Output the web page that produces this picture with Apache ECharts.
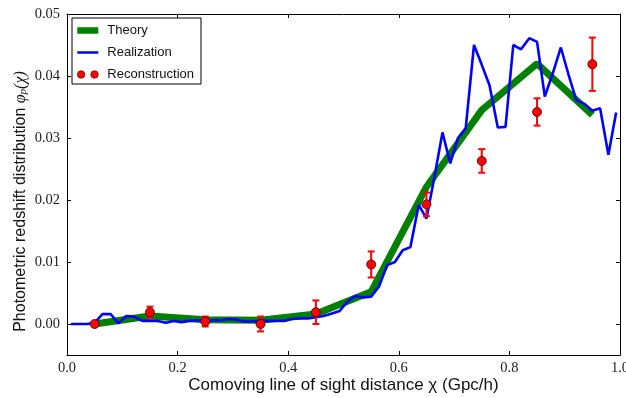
<!DOCTYPE html>
<html>
<head>
<meta charset="utf-8">
<script src="https://cdn.jsdelivr.net/npm/echarts@6/dist/echarts.min.js"></script>
<style>html,body{margin:0;padding:0;background:#fff}#c{width:626px;height:398px}</style>
</head>
<body>
<div id="c"></div>
<script>
// ---- data ----
const theoryX = [0.05, 0.15, 0.25, 0.35, 0.45, 0.55, 0.65, 0.75, 0.85, 0.95];
const theoryY = [0.0000, 0.0013, 0.0007, 0.0006, 0.0016, 0.0052, 0.0221, 0.0345, 0.0420, 0.0337];

const realX = [0.007, 0.021, 0.036, 0.050, 0.064, 0.079, 0.093, 0.107, 0.121, 0.136,
               0.150, 0.164, 0.179, 0.193, 0.207, 0.221, 0.236, 0.250, 0.264, 0.279,
               0.293, 0.307, 0.321, 0.336, 0.350, 0.364, 0.379, 0.393, 0.407, 0.421,
               0.436, 0.450, 0.464, 0.479, 0.493, 0.507, 0.521, 0.536, 0.550, 0.564,
               0.579, 0.593, 0.607, 0.621, 0.636, 0.650, 0.664, 0.679, 0.693, 0.707,
               0.721, 0.736, 0.750, 0.764, 0.779, 0.793, 0.807, 0.821, 0.836, 0.850,
               0.864, 0.879, 0.893, 0.907, 0.921, 0.936, 0.950, 0.964, 0.979, 0.993];
const realY = [0.0000, 0.0000, 0.0000, 0.0002, 0.0016, 0.0016, 0.0001, 0.0013, 0.0012, 0.0005,
               0.0005, 0.0005, 0.0002, 0.0005, 0.0003, 0.0005, 0.0006, 0.0004, 0.0006, 0.0006,
               0.0008, 0.0007, 0.0004, 0.0004, 0.0005, 0.0005, 0.0005, 0.0005, 0.0008, 0.0009,
               0.0009, 0.0011, 0.0013, 0.0017, 0.0021, 0.0036, 0.0045, 0.0043, 0.0044, 0.0060,
               0.0095, 0.0100, 0.0119, 0.0124, 0.0192, 0.0170, 0.0235, 0.0309, 0.0259, 0.0300,
               0.0316, 0.0450, 0.0418, 0.0385, 0.0317, 0.0318, 0.0450, 0.0443, 0.0461, 0.0455,
               0.0367, 0.0406, 0.0446, 0.0402, 0.0361, 0.0355, 0.0344, 0.0348, 0.0273, 0.0341];

const recX   = [0.05, 0.15, 0.25, 0.35, 0.45, 0.55, 0.65, 0.75, 0.85, 0.95];
const recY   = [0.0000, 0.0019, 0.0004, 0.0000, 0.0019, 0.0096, 0.0193, 0.0263, 0.0342, 0.0419];
const recErr = [0.0002, 0.0009, 0.0008, 0.0012, 0.0019, 0.0021, 0.0019, 0.0019, 0.0022, 0.0043];

const xTickValues = [0.0, 0.2, 0.4, 0.6, 0.8, 1.0];
const yTickValues = [0.00, 0.01, 0.02, 0.03, 0.04, 0.05];

// ---- build ----
const zip = (a, b) => a.map((v, i) => [v, b[i]]);
const zip3 = (a, b, c) => a.map((v, i) => [v, b[i], c[i]]);

const tickFont = {fontFamily: 'Liberation Serif', fontSize: 14.5, color: '#222'};
const axisLine = {show: true, onZero: false, lineStyle: {color: '#000', width: 1}};
const tick = {inside: true, length: 4, lineStyle: {color: '#000'}};

// legend icons: thin invisible corner specks fix the bounding box so bar thickness is kept
const specks = 'M0,0h0.01v0.01h-0.01zM20.99,9.99h0.01v0.01h-0.01z';
const theoryIcon = 'path://' + specks + 'M0,1.8h21v6.4h-21z';
const realIcon = 'path://' + specks + 'M0,3.7h21v2.6h-21z';
const recIcon = 'path://' + specks + 'M0,5a3.8,3.8 0 1,0 7.6,0a3.8,3.8 0 1,0 -7.6,0zM13.4,5a3.8,3.8 0 1,0 7.6,0a3.8,3.8 0 1,0 -7.6,0z';

const chart = echarts.init(document.getElementById('c'), null, {renderer: 'canvas'});
chart.setOption({
  animation: false,
  backgroundColor: '#fff',
  grid: {left: 67, right: 6, top: 14, bottom: 43, containLabel: false, outerBoundsMode: 'none'},
  xAxis: [{
    type: 'value', min: 0, max: 1, interval: 0.2, position: 'bottom',
    axisLine: axisLine, splitLine: {show: false}, axisTick: tick,
    axisLabel: Object.assign({margin: 6, customValues: xTickValues, formatter: v => v.toFixed(1)}, tickFont),
    name: 'Comoving line of sight distance \u03c7 (Gpc/h)', nameLocation: 'middle', nameGap: 22,
    nameMoveOverlap: false,
    nameTextStyle: {fontFamily: 'Liberation Sans', fontSize: 17, color: '#111'}
  }, {
    type: 'value', min: 0, max: 1, interval: 0.2, position: 'top',
    axisLine: axisLine, splitLine: {show: false}, axisTick: tick,
    axisLabel: {show: false}
  }],
  yAxis: [{
    type: 'value', min: -0.005, max: 0.05, position: 'left',
    axisLine: axisLine, splitLine: {show: false},
    axisTick: Object.assign({customValues: yTickValues}, tick),
    axisLabel: Object.assign({margin: 7, customValues: yTickValues, formatter: v => v.toFixed(2)}, tickFont),
    name: '{a|Photometric redshift distribution }{m|\u03c6}{s|p}{m|(\u03c7)}',
    nameLocation: 'middle', nameGap: 38, nameMoveOverlap: false,
    nameTextStyle: {
      fontFamily: 'Liberation Sans', fontSize: 16, color: '#111', padding: [0, 34, 0, 0],
      rich: {
        a: {fontFamily: 'Liberation Sans', fontSize: 16, color: '#111'},
        m: {fontFamily: 'Liberation Serif', fontStyle: 'italic', fontSize: 16, color: '#111'},
        s: {fontFamily: 'Liberation Serif', fontStyle: 'italic', fontSize: 11, color: '#111', padding: [6, 0, 0, 0]}
      }
    }
  }, {
    type: 'value', min: -0.005, max: 0.05, position: 'right',
    axisLine: axisLine, splitLine: {show: false},
    axisTick: Object.assign({customValues: yTickValues}, tick),
    axisLabel: {show: false}
  }],
  legend: {
    orient: 'vertical', left: 72, top: 18,
    padding: [6, 7, 3, 5], itemGap: 9, itemWidth: 21, itemHeight: 10,
    borderColor: '#000', borderWidth: 1, backgroundColor: '#fff',
    textStyle: {fontFamily: 'Liberation Sans', fontSize: 13, color: '#111', padding: [0, 0, 0, 4]},
    data: [
      {name: 'Theory', icon: theoryIcon, itemStyle: {color: '#008000'}},
      {name: 'Realization', icon: realIcon, itemStyle: {color: '#0000ff'}},
      {name: 'Reconstruction', icon: recIcon, itemStyle: {color: '#ff0000', borderColor: '#3a0000', borderWidth: 0.6}}
    ]
  },
  series: [
    {
      name: 'Theory', type: 'line', data: zip(theoryX, theoryY),
      symbol: 'none', showSymbol: false,
      lineStyle: {color: '#008000', width: 7}, itemStyle: {color: '#008000'}, z: 2
    },
    {
      name: 'Realization', type: 'line', data: zip(realX, realY),
      symbol: 'none', showSymbol: false,
      lineStyle: {color: '#0000ff', width: 2.6}, itemStyle: {color: '#0000ff'}, z: 3
    },
    {
      name: 'errbar', type: 'custom', data: zip3(recX, recY, recErr), z: 4,
      renderItem: function (params, api) {
        const x = api.value(0), y = api.value(1), e = api.value(2);
        const t = api.coord([x, y + e]), b = api.coord([x, y - e]);
        const w = 3.5, st = {stroke: '#ff0000', lineWidth: 2};
        return {type: 'group', children: [
          {type: 'line', shape: {x1: t[0], y1: t[1], x2: b[0], y2: b[1]}, style: st},
          {type: 'line', shape: {x1: t[0] - w, y1: t[1], x2: t[0] + w, y2: t[1]}, style: st},
          {type: 'line', shape: {x1: b[0] - w, y1: b[1], x2: b[0] + w, y2: b[1]}, style: st}
        ]};
      }
    },
    {
      name: 'Reconstruction', type: 'scatter', data: zip(recX, recY), z: 5,
      symbol: 'circle', symbolSize: 9,
      itemStyle: {color: '#ff0000', borderColor: '#3a0000', borderWidth: 0.8, opacity: 1}
    }
  ]
});
</script>
</body>
</html>
